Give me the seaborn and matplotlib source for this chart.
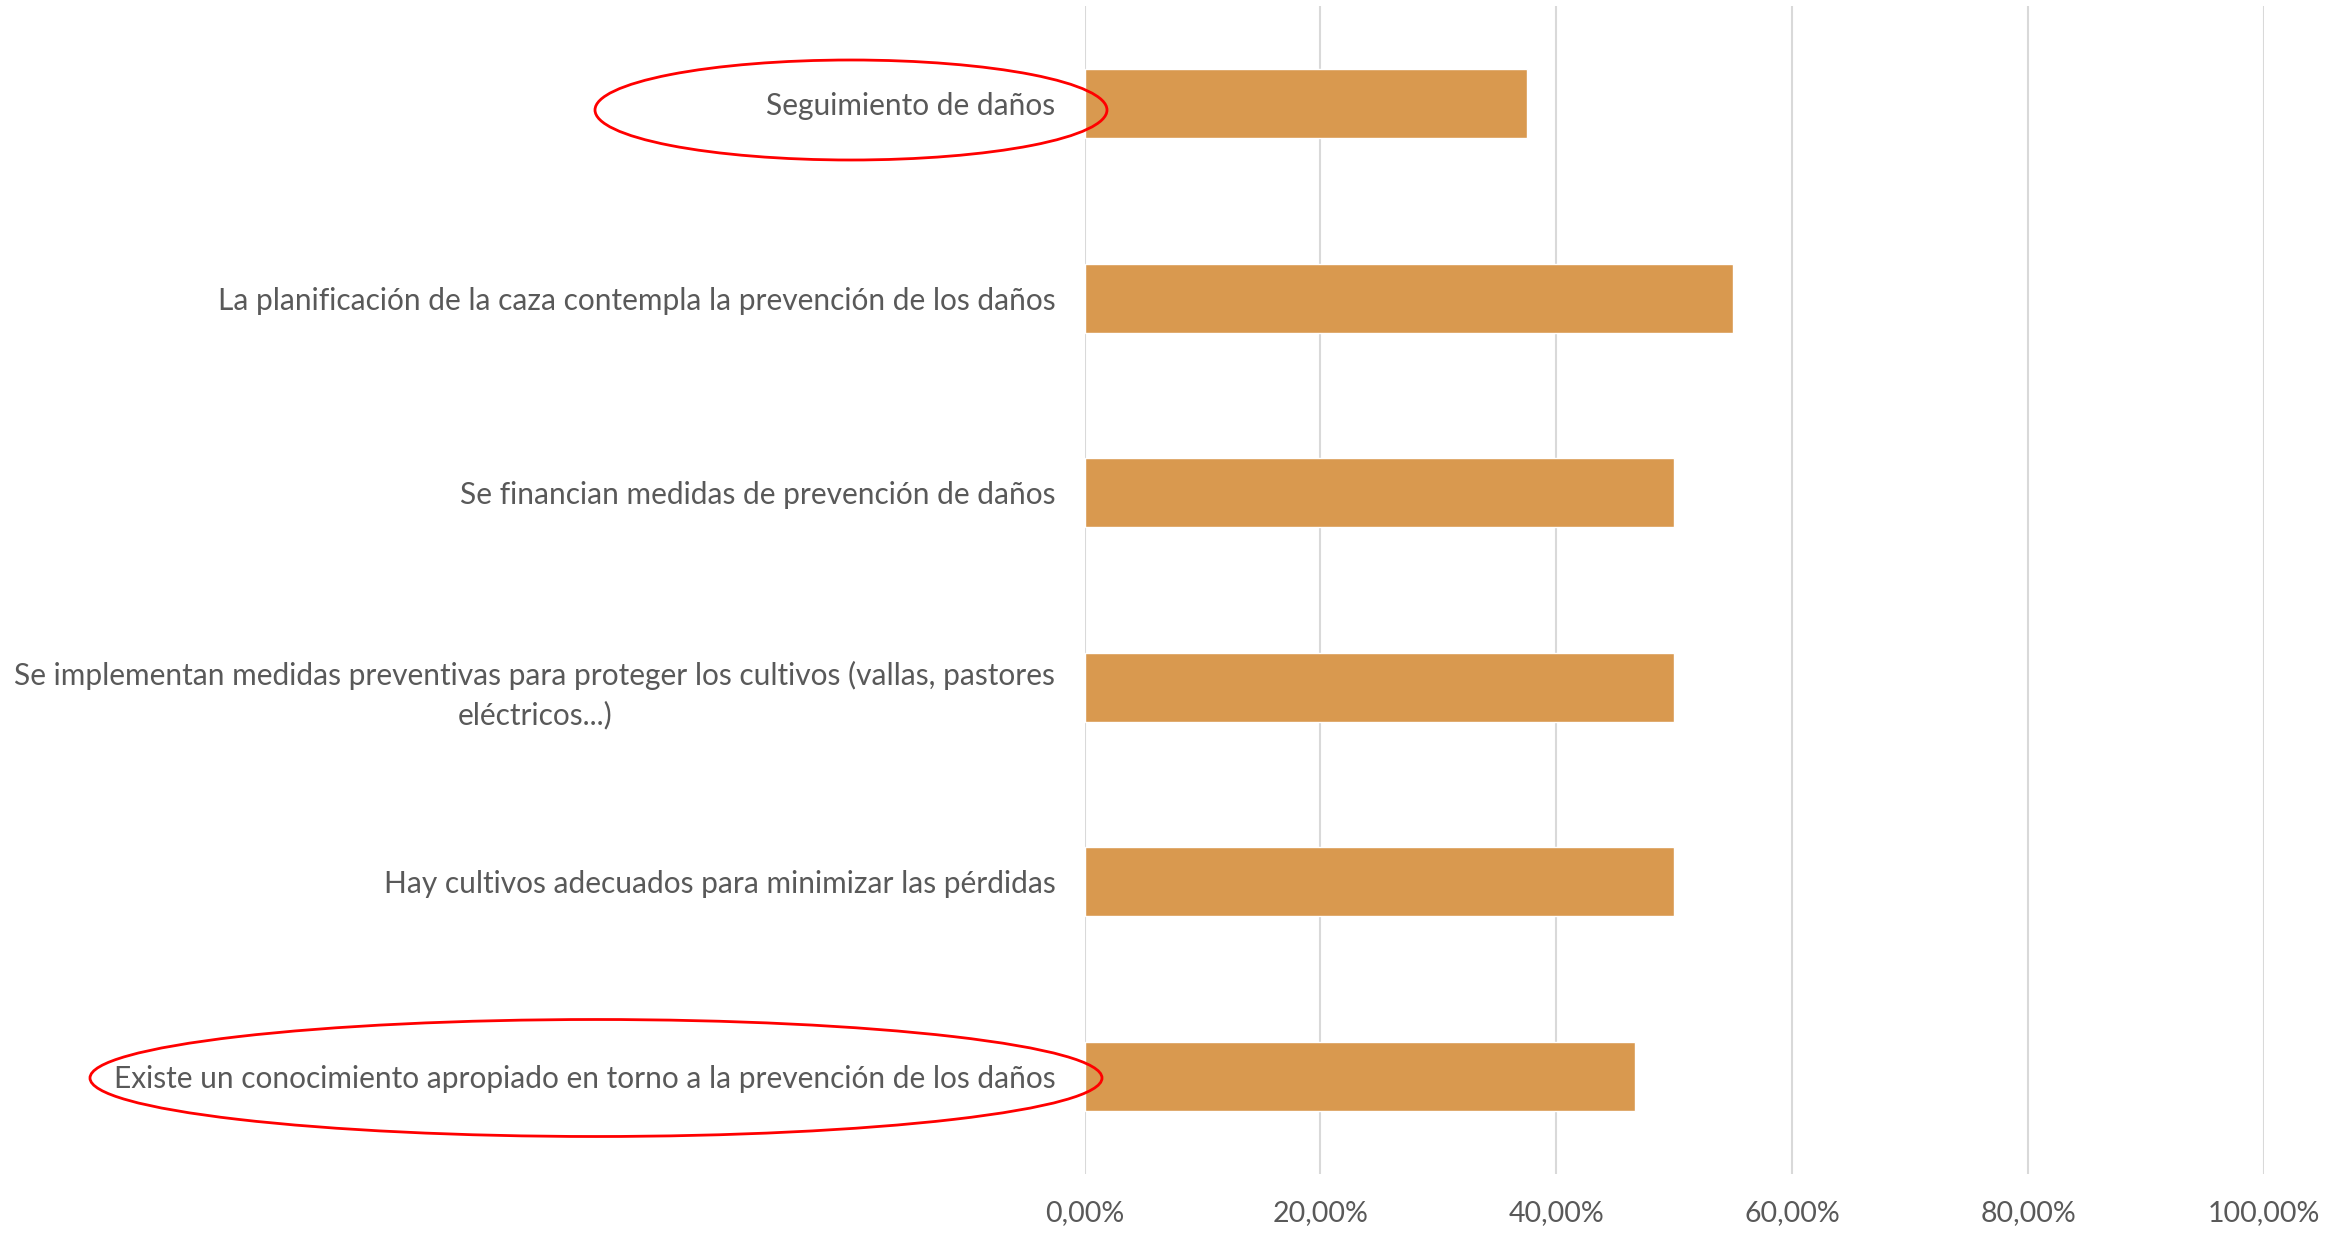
"""
Prevención de daños - barras horizontales con porcentajes.
"""
import numpy as np
import pandas as pd
import matplotlib
matplotlib.use('Agg')
import matplotlib.pyplot as plt
from matplotlib.patches import Ellipse
from matplotlib.ticker import FuncFormatter
import seaborn as sns

categories = [
    "Seguimiento de daños",
    "La planificación de la caza contempla la prevención de los daños",
    "Se financian medidas de prevención de daños",
    "Se implementan medidas preventivas para proteger los cultivos (vallas, pastores\neléctricos...)",
    "Hay cultivos adecuados para minimizar las pérdidas",
    "Existe un conocimiento apropiado en torno a la prevención de los daños",
]
values = [37.5, 55.0, 50.0, 50.0, 50.0, 46.67]
x_ticks = [0, 20, 40, 60, 80, 100]

sns.set_style("white")
plt.rcParams['font.family'] = ['Lato', 'DejaVu Sans']

df = pd.DataFrame({'categoria': categories, 'valor': values})

fig = plt.figure(figsize=(23.51, 12.33), dpi=100)
ax = fig.add_axes([0.4613, 0.048, 0.963 - 0.4613, 0.947])

sns.barplot(data=df, x='valor', y='categoria', color='#D9994F',
            saturation=1, width=0.355, ax=ax, zorder=3)

ax.set_xlim(0, 100)
ax.set_xticks(x_ticks)
ax.xaxis.set_major_formatter(FuncFormatter(lambda v, _: f"{v:.2f}%".replace('.', ',')))
ax.grid(axis='x', color='#D9D9D9', linewidth=1.5, zorder=0)
ax.set_axisbelow(True)
for s in ax.spines.values():
    s.set_visible(False)
ax.set_xlabel('')
ax.set_ylabel('')
ax.tick_params(axis='both', length=0, colors='#595959')
ax.tick_params(axis='y', pad=21, labelsize=21.5)
ax.tick_params(axis='x', pad=19, labelsize=20.5)
for lab in ax.get_yticklabels():
    lab.set_multialignment('center')
    lab.set_linespacing(1.45)

# Red ellipses highlighting two categories (figure pixel coords)
W, H = 2351, 1233
for cx, cy, ew, eh in [(851, 110, 512, 100), (596, 1078, 1012, 117)]:
    e = Ellipse((cx / W, 1 - cy / H), ew / W, eh / H, transform=fig.transFigure,
                fill=False, edgecolor='#FF0000', linewidth=2.0)
    fig.patches.append(e)

plt.savefig('out.png', dpi=100)
plt.close()
